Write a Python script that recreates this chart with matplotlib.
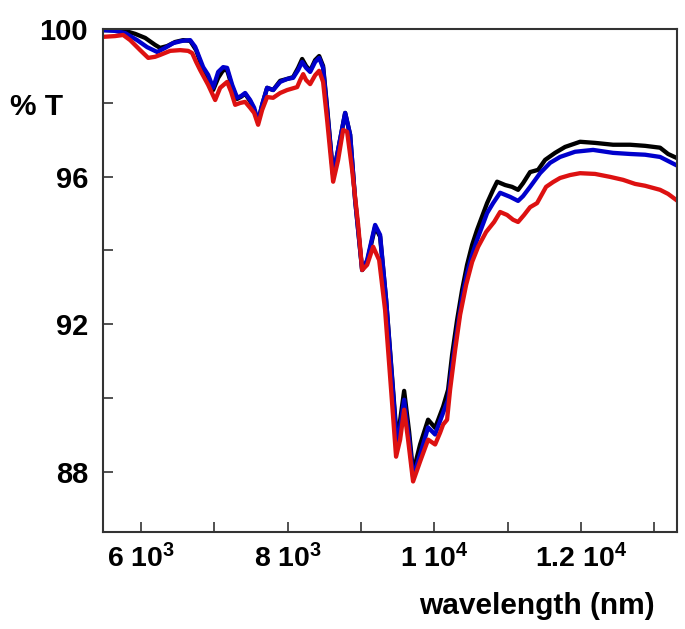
import matplotlib
matplotlib.use("Agg")
import matplotlib.pyplot as plt

plt.rcParams['font.family'] = ['Liberation Sans', 'DejaVu Sans']
plt.rcParams['font.weight'] = 'bold'
plt.rcParams['mathtext.fontset'] = 'custom'
plt.rcParams['mathtext.rm'] = 'Liberation Sans:bold'
plt.rcParams['mathtext.it'] = 'Liberation Sans:bold'
plt.rcParams['mathtext.bf'] = 'Liberation Sans:bold'

# ---------------- data ----------------
black_wl = [5485, 5645, 5782, 5918, 6055, 6191, 6259, 6355, 6464, 6573, 6669, 6750,
            6846, 6914, 6982, 7051, 7119, 7173, 7242, 7310, 7365, 7419, 7487, 7542,
            7596, 7651, 7719, 7801, 7897, 7992, 8074, 8142, 8197, 8251, 8306, 8374,
            8429, 8483, 8538, 8620, 8688, 8784, 8852, 8920, 9016, 9084, 9193, 9261,
            9343, 9425, 9493, 9589, 9657, 9711, 9807, 9916, 10012, 10121, 10189,
            10244, 10312, 10380, 10448, 10517, 10585, 10721, 10803, 10858, 10967,
            11062, 11144, 11212, 11308, 11417, 11513, 11649, 11785, 11990, 12195,
            12440, 12672, 12877, 13082, 13191, 13300]
black_t = [99.96, 99.96, 99.94, 99.86, 99.75, 99.56, 99.48, 99.53, 99.64, 99.69, 99.67, 99.42,
           98.88, 98.61, 98.34, 98.67, 98.88, 98.88, 98.42, 98.10, 98.16, 98.24, 98.04, 97.80,
           97.48, 97.94, 98.40, 98.34, 98.59, 98.64, 98.69, 98.94, 99.18, 98.99, 98.86, 99.15,
           99.26, 98.99, 97.86, 96.04, 96.72, 97.72, 97.13, 95.37, 93.47, 93.69, 94.64, 94.37,
           92.66, 90.56, 88.80, 90.20, 89.09, 87.99, 88.75, 89.42, 89.20, 89.77, 90.23,
           91.18, 92.12, 92.93, 93.61, 94.15, 94.56, 95.28, 95.64, 95.86, 95.77,
           95.72, 95.64, 95.82, 96.12, 96.18, 96.45, 96.64, 96.80, 96.94, 96.91,
           96.86, 96.86, 96.83, 96.78, 96.61, 96.51]

blue_wl = [5485, 5645, 5782, 5945, 6082, 6218, 6327, 6437, 6559, 6669, 6737, 6846,
           6914, 6982, 7051, 7119, 7173, 7242, 7310, 7365, 7419, 7487, 7542, 7596,
           7651, 7719, 7801, 7897, 7992, 8074, 8142, 8197, 8251, 8306, 8374, 8429,
           8483, 8538, 8620, 8688, 8784, 8852, 8920, 9016, 9084, 9193, 9261, 9343,
           9425, 9493, 9589, 9657, 9711, 9807, 9916, 10012, 10121, 10189, 10244,
           10312, 10380, 10448, 10517, 10585, 10721, 10803, 10899, 11035, 11144,
           11212, 11308, 11444, 11581, 11717, 11922, 12168, 12440, 12672, 12877,
           13082, 13191, 13300]
blue_t = [99.96, 99.94, 99.88, 99.69, 99.50, 99.37, 99.48, 99.61, 99.67, 99.69, 99.51, 98.96,
          98.75, 98.40, 98.83, 98.96, 98.94, 98.48, 98.13, 98.18, 98.26, 98.07, 97.86, 97.48,
          97.94, 98.40, 98.34, 98.56, 98.64, 98.67, 98.88, 99.10, 98.94, 98.83, 99.10, 99.21,
          98.94, 97.80, 96.04, 96.72, 97.72, 97.13, 95.37, 93.47, 93.74, 94.69, 94.42, 92.66,
          90.50, 88.64, 89.96, 88.88, 87.88, 88.48, 89.21, 89.02, 89.61, 89.96, 90.91,
          91.85, 92.72, 93.39, 93.88, 94.29, 95.01, 95.28, 95.56, 95.45, 95.34,
          95.47, 95.72, 96.09, 96.37, 96.53, 96.67, 96.72, 96.64, 96.61, 96.59,
          96.53, 96.42, 96.31]

red_wl = [5485, 5645, 5754, 5850, 5986, 6096, 6191, 6259, 6396, 6532, 6641, 6696, 6750,
          6805, 6914, 7010, 7078, 7173, 7228, 7283, 7351, 7419, 7487, 7542, 7596,
          7651, 7719, 7801, 7897, 7992, 8129, 8170, 8211, 8251, 8306, 8374, 8429,
          8483, 8538, 8620, 8688, 8756, 8811, 8879, 8961, 9016, 9084, 9166, 9248,
          9329, 9411, 9479, 9534, 9589, 9643, 9711, 9807, 9916, 10012, 10080, 10121,
          10175, 10216, 10285, 10353, 10435, 10517, 10599, 10708, 10817, 10899,
          10994, 11076, 11144, 11226, 11308, 11403, 11526, 11622, 11717, 11854,
          11990, 12195, 12400, 12577, 12741, 12877, 13082, 13191, 13300]
red_t = [99.78, 99.80, 99.83, 99.69, 99.42, 99.21, 99.24, 99.29, 99.40, 99.42, 99.40, 99.34, 99.10,
         98.88, 98.48, 98.07, 98.40, 98.56, 98.29, 97.94, 97.99, 98.02, 97.86, 97.72, 97.40,
         97.80, 98.15, 98.13, 98.26, 98.34, 98.42, 98.61, 98.77, 98.61, 98.50, 98.74, 98.86,
         98.56, 97.53, 95.86, 96.45, 97.26, 97.21, 96.18, 94.70, 93.47, 93.61, 94.10, 93.74,
         92.39, 90.23, 88.42, 88.88, 89.69, 88.88, 87.75, 88.29, 88.88, 88.75, 89.07, 89.29,
         89.42, 90.23, 91.31, 92.26, 93.07, 93.69, 94.10, 94.50, 94.77, 95.04,
         94.96, 94.83, 94.77, 94.96, 95.17, 95.28, 95.72, 95.85, 95.96, 96.04,
         96.09, 96.07, 95.99, 95.91, 95.80, 95.75, 95.64, 95.53, 95.37]

x_major = [6000, 8000, 10000, 12000]
x_major_labels = ['6 10$^3$', '8 10$^3$', '1 10$^4$', '1.2 10$^4$']
x_minor = [7000, 9000, 11000, 13000]
y_major = [88, 92, 96, 100]
y_minor = [90, 94, 98]

# ---------------- figure ----------------
fig = plt.figure(figsize=(6.85, 6.29), dpi=100)
ax = fig.add_axes([0.151, 0.1547, 0.837, 0.7997])

lw = 3.1
ax.plot(black_wl, black_t, color='#000000', lw=lw, solid_joinstyle='round')
ax.plot(blue_wl, blue_t, color='#0000cc', lw=lw, solid_joinstyle='round')
ax.plot(red_wl, red_t, color='#dd1111', lw=lw, solid_joinstyle='round')

ax.set_xlim(5485, 13310)
ax.set_ylim(86.39, 100)

ax.set_xticks(x_major)
ax.set_xticklabels(x_major_labels)
ax.set_xticks(x_minor, minor=True)
ax.set_yticks(y_major)
ax.set_yticklabels([str(v) for v in y_major])
ax.set_yticks(y_minor, minor=True)

ax.tick_params(axis='both', which='both', direction='in', length=7.5, width=1.2,
               color='#333333', top=False, right=False)
ax.tick_params(axis='x', which='major', labelsize=20.5, pad=9)
ax.tick_params(axis='y', which='major', labelsize=21, pad=11)
for lab in ax.get_xticklabels() + ax.get_yticklabels():
    lab.set_fontweight('bold')

for s in ax.spines.values():
    s.set_linewidth(1.5)
    s.set_color('#333333')

fig.text(10 / 685, 1 - 107 / 629, '% T', fontsize=21.5, fontweight='bold',
         ha='left', va='center')
fig.text(655 / 685, 1 - 606 / 629, 'wavelength (nm)', fontsize=21.5, fontweight='bold',
         ha='right', va='center')

fig.savefig('out.png', dpi=100)
